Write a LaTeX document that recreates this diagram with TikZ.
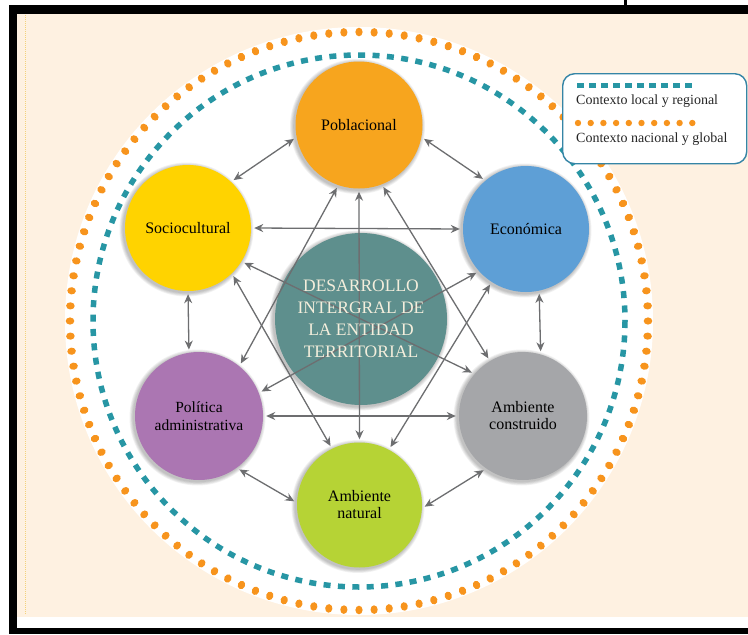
\documentclass[tikz,border=0pt]{standalone}
\usepackage{fontspec}
\setmainfont{Liberation Serif}
\usetikzlibrary{arrows.meta,calc,backgrounds}
\definecolor{cream}{HTML}{FEF1E1}
\definecolor{dotor}{HTML}{F7941D}
\definecolor{tealc}{HTML}{2796A4}
\definecolor{legb}{HTML}{3585A6}
\definecolor{cpob}{HTML}{F7A51E}
\definecolor{csoc}{HTML}{FFD300}
\definecolor{ceco}{HTML}{5E9FD6}
\definecolor{ccen}{HTML}{5E8F8D}
\definecolor{cpol}{HTML}{AB76B2}
\definecolor{camc}{HTML}{A5A6A9}
\definecolor{camn}{HTML}{B6D335}
\definecolor{arrc}{HTML}{6D6E70}
\definecolor{ctxt}{HTML}{F4EEDC}
\definecolor{ylw}{HTML}{F3D27A}
\begin{document}
\begin{tikzpicture}[x=1pt,y=-1pt,
  bubble/.style={circle,inner sep=0pt,align=center,font=\fontsize{16}{17}\selectfont,text=black},
  arr/.style={draw=arrc,line width=1.3pt,{Stealth[length=9pt,width=8pt]}-{Stealth[length=9pt,width=8pt]},shorten <=3pt,shorten >=3pt},
  legtxt/.style={anchor=west,inner sep=0pt,font=\fontsize{14}{15}\selectfont,text=black!85}]
\useasboundingbox (0,0) rectangle (748,635);

% nodes
\node[bubble,fill=cpob,minimum size=127pt] (pob) at (359,125) {\raisebox{-4pt}{Poblacional}};
\node[bubble,fill=csoc,minimum size=126pt] (soc) at (188,228) {Sociocultural};
\node[bubble,fill=ceco,minimum size=126pt] (eco) at (526,229) {Económica};
\node[bubble,fill=ccen,minimum size=172pt] (cen) at (361,319) {};
\node[bubble,fill=cpol,minimum size=128pt,font=\fontsize{15.5}{18}\selectfont] (pol) at (199,416) {Política\\administrativa};
\node[bubble,fill=camc,minimum size=128pt] (amc) at (523,416) {Ambiente\\construido};
\node[bubble,fill=camn,minimum size=125pt] (amn) at (359.5,505) {Ambiente\\natural};

\begin{pgfonlayer}{background}
  \fill[white] (0,0) rectangle (748,635);
  \fill[cream] (17,14) rectangle (748,617);
  \draw[ylw,line width=0.8pt,dash pattern=on 1pt off 1pt] (25,15) -- (25,615);
  \fill[black] (9,5) rectangle (748,14);
  \fill[black] (9,5) rectangle (17,634);
  \fill[black] (9,628) rectangle (748,634);
  \fill[black] (624,0) rectangle (627,5);
  \coordinate (oc) at (359,321);
  \fill[white] (oc) circle (294);
  \foreach \a in {0,3,...,357}
    \fill[dotor,shift={(oc)},rotate=\a] (289,0) ellipse [x radius=4.3,y radius=3.6];
  \draw[tealc,line width=5.5pt,dash pattern=on 7pt off 7.4pt] (oc) circle (266);
  % soft shadows
  \foreach \n/\r in {pob/63.5,soc/63,eco/63,cen/86,pol/64,amc/64,amn/62.5}
    \foreach \i in {1,...,5}
      \fill[black,opacity=0.05] ($(\n)+(-1.5,1.5)$) circle ({\r+\i*0.8});
\end{pgfonlayer}

% connectors
\draw[arr] (pob.191) -- (soc.47.5);
\draw[arr] (pob.349) -- (eco.130);
\draw[arr] (soc.east) -- (eco.west);
\draw[arr] (soc.south) -- (pol.99.5);
\draw[arr] (eco.282.8) -- (amc.74.6);
\draw[arr] (pol.east) -- (amc.west);
\draw[arr] (pol.306) -- (amn.178);
\draw[arr] (amn.357.5) -- (amc.235.3);
\draw[arr] (pob.south) -- (amn.north);
\draw[arr] (pob.251.8) -- (pol.51.8);
\draw[arr] (pob.291) -- (amc.121.4);
\draw[arr] (soc.328) -- (amc.139.3);
\draw[arr] (soc.314) -- (amn.116.6);
\draw[arr] (eco.222) -- (pol.21.5);
\draw[arr] (eco.237.4) -- (amn.62.4);

\node[align=center,text=ctxt,font=\fontsize{17.5}{22}\selectfont] (centxt) at (cen) {DESARROLLO\\INTERGRAL DE\\LA ENTIDAD\\TERRITORIAL};

% legend
\node[draw=legb,line width=1.4pt,fill=white,rounded corners=12pt,minimum width=184pt,minimum height=90pt,anchor=north west] (leg) at (562,73) {};
\coordinate (d1) at (577,85);
\coordinate (d2) at (694,85);
\draw[tealc,line width=5pt,dash pattern=on 6.5pt off 5.5pt] (d1) -- (d2);
\node[legtxt] (l1) at (576,101) {Contexto local y regional};
\foreach \k in {0,...,9}
  \fill[dotor] ($(578,123)+(\k*12.7,0)$) circle (3.2);
\node[legtxt] (l2) at (576,139) {Contexto nacional y global};
\end{tikzpicture}
\end{document}
